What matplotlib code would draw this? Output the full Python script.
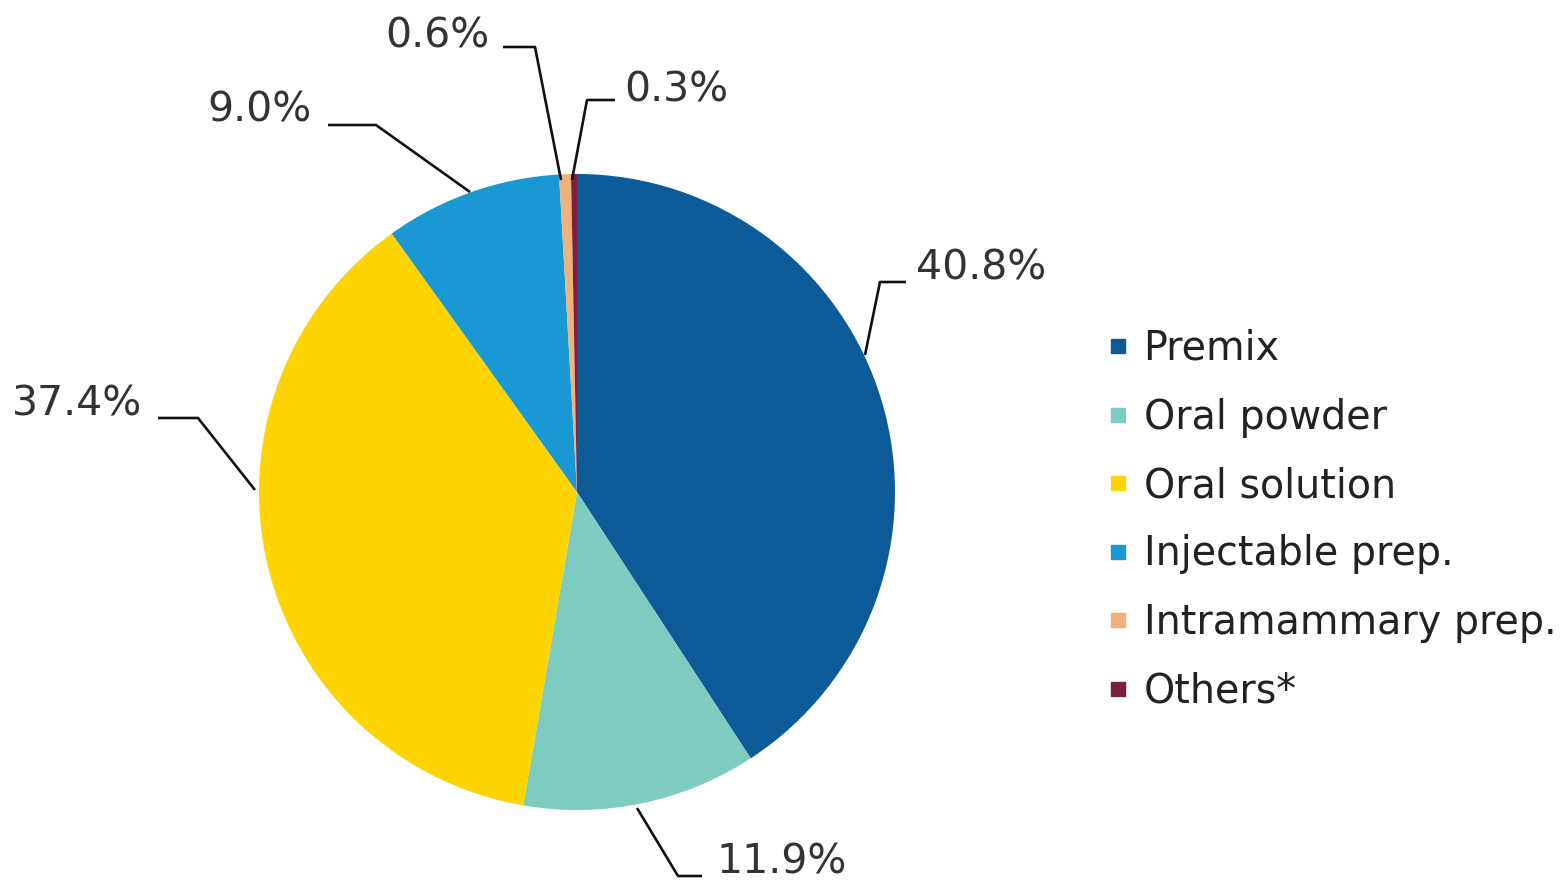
import matplotlib
matplotlib.use("Agg")
import matplotlib.pyplot as plt
from matplotlib.lines import Line2D

categories = ["Premix", "Oral powder", "Oral solution", "Injectable prep.",
              "Intramammary prep.", "Others*"]
values = [40.8, 11.9, 37.4, 9.0, 0.6, 0.3]
labels = ["40.8%", "11.9%", "37.4%", "9.0%", "0.6%", "0.3%"]
colors = ["#0d5a98", "#7ecbbf", "#fdd400", "#1a98d3", "#efb27a", "#7a1f3d"]

W, H = 1565, 893
fig = plt.figure(figsize=(W / 100, H / 100), dpi=100)
ax = fig.add_axes([0, 0, 1, 1])


def P(x, y):
    return (x, H - y)


cx, cy, r = 577, 492, 318
ax.pie(values, colors=colors, startangle=90, counterclock=False,
       center=P(cx, cy), radius=r, wedgeprops=dict(linewidth=0))
ax.set_xlim(0, W)
ax.set_ylim(0, H)
ax.set_aspect("equal")
ax.axis("off")

# leader lines: (edge point, elbow, end of horizontal, text pos, ha)
leaders = [
    ((865, 355), (880, 282), (906, 282), (916, 269), "left"),
    ((637, 808), (678, 876), (702, 876), (716, 862), "left"),
    ((255, 490), (198, 418), (158, 418), (142, 405), "right"),
    ((470, 192), (376, 125), (328, 125), (312, 111), "right"),
    ((561, 180), (535, 47), (503, 47), (489, 36), "right"),
    ((572, 180), (587, 100), (615, 100), (624, 90), "left"),
]
for lab, (a, b, c, t, ha) in zip(labels, leaders):
    xs, ys = zip(P(*a), P(*b), P(*c))
    ax.plot(xs, ys, color="#111111", lw=1.9, solid_capstyle="butt")
    ax.text(*P(*t), lab, ha=ha, va="center", fontsize=29.5, color="#333333",
            family="DejaVu Sans")

handles = [Line2D([0], [0], marker="s", linestyle="none", markersize=10.5,
                  markerfacecolor=c, markeredgecolor=c) for c in colors]
leg = fig.legend(handles, categories, loc="upper left",
                 bbox_to_anchor=(1106 / W, 1 - 329 / H), frameon=False,
                 fontsize=28.5, handlelength=0.6, handletextpad=0.35,
                 labelspacing=0.72, borderaxespad=0, borderpad=0)
for t in leg.get_texts():
    t.set_color("#222222")

fig.savefig("out.png", dpi=100, facecolor="white")
